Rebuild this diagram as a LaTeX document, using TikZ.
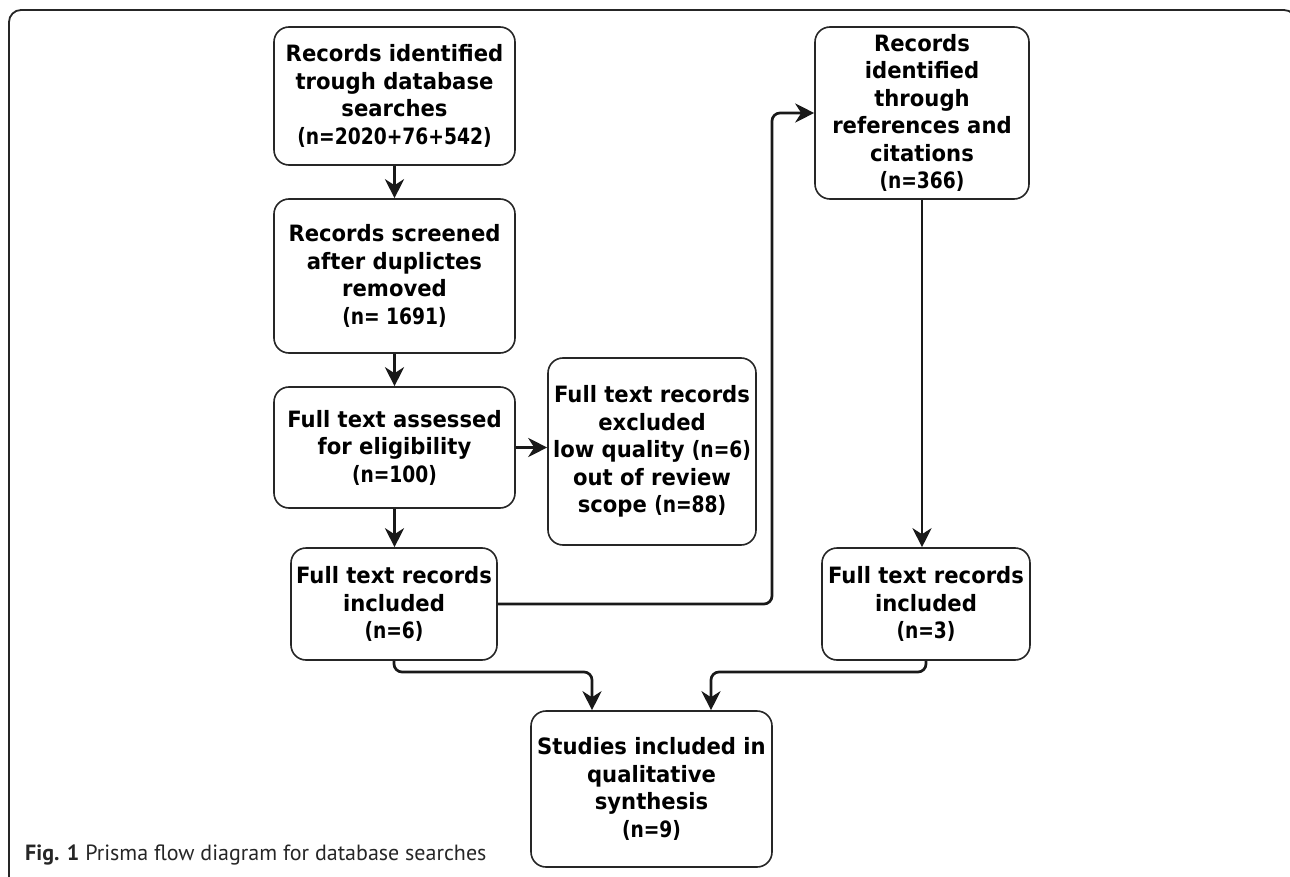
\documentclass[tikz,border=0pt]{standalone}
\usepackage{fontspec}
\setmainfont{DejaVu Sans}
\newfontfamily\boxfont[FakeStretch=0.94]{DejaVu Sans}
\newfontfamily\numfont[FakeStretch=0.83]{DejaVu Sans}
\newfontfamily\capfont{PT Sans}
\newcommand\numtxt[1]{{\numfont\bfseries #1}}
\usetikzlibrary{arrows.meta}
\begin{document}
\begin{tikzpicture}[x=1pt,y=-1pt,
  box/.style={draw=black!85, line width=1.6pt, rounded corners=15pt, fill=white,
    align=center, inner sep=0pt, font=\boxfont\fontsize{22.5}{27.5}\selectfont\bfseries},
  conn/.style={line width=2.7pt, draw=black!90, rounded corners=8pt},
  arr/.style={conn, -{Stealth[length=19pt,width=19pt,inset=6pt]}}]
\useasboundingbox (0,0) rectangle (1290,877);
\draw[line width=1.8pt, black!85, rounded corners=12pt] (9,900) -- (9,10) -- (1296,10) -- (1296,900);

\node[box, minimum width=241pt, minimum height=138pt] (b1) at (394.5,96)
  {Records identified\\trough database\\searches\\\numtxt{(n=2020+76+542)}};
\node[box, minimum width=241pt, minimum height=154pt] (b2) at (394.5,276)
  {Records screened\\after duplictes\\removed\\\numtxt{(n= 1691)}};
\node[box, minimum width=241pt, minimum height=121pt] (b3) at (394.5,447.5)
  {Full text assessed\\for eligibility\\\numtxt{(n=100)}};
\node[box, minimum width=208pt, minimum height=187pt] (excl) at (652,451.5)
  {Full text records\\excluded\\low quality \numtxt{(n=6)}\\out of review\\scope \numtxt{(n=88)}};
\node[box, minimum width=206pt, minimum height=112pt] (b4) at (394,604)
  {Full text records\\included\\\numtxt{(n=6)}};
\node[box, minimum width=214pt, minimum height=172pt] (ref) at (922,113)
  {Records\\identified\\through\\references and\\citations\\\numtxt{(n=366)}};
\node[box, minimum width=208pt, minimum height=112pt] (right) at (926,604)
  {Full text records\\included\\\numtxt{(n=3)}};
\node[box, minimum width=241pt, minimum height=156pt] (fin) at (651.5,789)
  {Studies included in\\qualitative\\synthesis\\\numtxt{(n=9)}};

\coordinate (turn) at (772,113);
\coordinate (jL) at (592,672);
\coordinate (jR) at (711,672);

\draw[arr] (b1.south) -- (b2.north);
\draw[arr] (b2.south) -- (b3.north);
\draw[arr] (b3.south) -- (b3.south |- b4.north);
\draw[arr] (b3.east) -- (b3.east -| excl.west);
\draw[arr] (b4.east) -| (turn) -- (ref.west);
\draw[arr] (ref.south) -- (ref.south |- right.north);
\draw[arr] (b4.south) |- (jL) -- (jL |- fin.north);
\draw[arr] (right.south) |- (jR) -- (jR |- fin.north);

\node[anchor=base west, inner sep=0pt, text=black!85,
  font=\capfont\fontsize{22}{26}\selectfont] (cap) at (25,860)
  {\textbf{Fig. 1} Prisma flow diagram for database searches};
\end{tikzpicture}
\end{document}
